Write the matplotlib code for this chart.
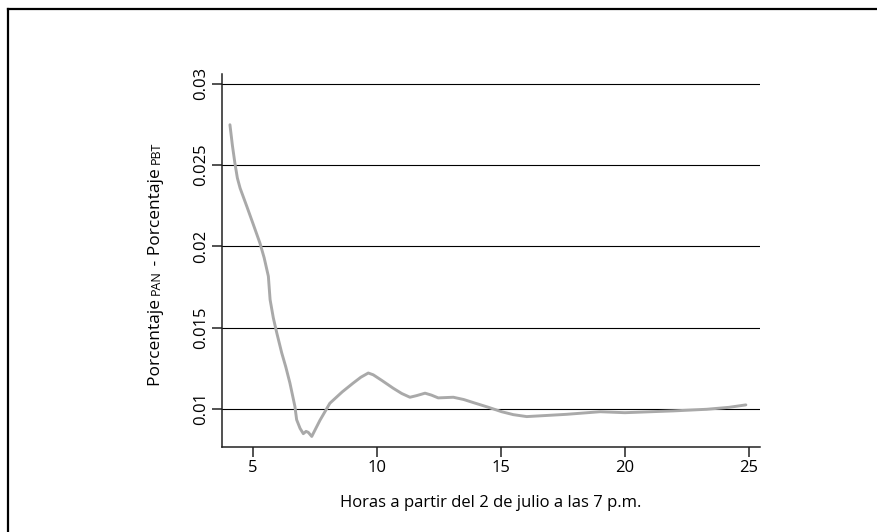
import numpy as np
import matplotlib
matplotlib.use('Agg')
import matplotlib.pyplot as plt
from matplotlib.lines import Line2D

plt.rcParams['font.family'] = ['Open Sans', 'DejaVu Sans']

# valores
horas = [4.07, 4.17, 4.27, 4.37, 4.48, 4.75, 5.0, 5.28, 5.45, 5.62, 5.69, 5.82,
         5.96, 6.16, 6.32, 6.49, 6.69, 6.76, 6.9, 7.03, 7.14, 7.23, 7.37, 7.7,
         8.10, 8.6, 9.04, 9.35, 9.65, 9.85, 10.2, 10.66, 11.0, 11.33, 11.6,
         11.94, 12.2, 12.47, 13.08, 13.5, 13.89, 14.5, 15.03, 15.5, 16.04,
         17.65, 19.0, 20.0, 21.95, 23.3, 24.2, 24.88]
dif = [0.02748, 0.02620, 0.02512, 0.02420, 0.02358, 0.02246, 0.02140, 0.0202,
       0.01930, 0.01816, 0.01672, 0.01560, 0.01467, 0.01344, 0.01260, 0.01159,
       0.01016, 0.00934, 0.00880, 0.00848, 0.00862, 0.00856, 0.00831, 0.00930,
       0.01035, 0.01105, 0.01159, 0.01195, 0.01221, 0.01210, 0.01175, 0.01127,
       0.01095, 0.01072, 0.01082, 0.01097, 0.01085, 0.01068, 0.01072, 0.01058,
       0.01039, 0.01010, 0.00983, 0.00965, 0.00953, 0.00967, 0.00983, 0.00977,
       0.00988, 0.00998, 0.01010, 0.01025]
xticks = [5, 10, 15, 20, 25]
yticks = [0.01, 0.015, 0.02, 0.025, 0.03]
ytick_labels = ['0.01', '0.015', '0.02', '0.025', '0.03']

W, H = 878, 532
fig = plt.figure(figsize=(W / 100, H / 100), dpi=100)
ax = fig.add_axes([222 / W, 1 - 447 / H, (760 - 222) / W, (447 - 74) / H])

for yv in yticks:
    ax.axhline(yv, color='black', lw=0.8, zorder=1)
ax.plot(horas, dif, color='#a9a9a9', lw=2.1, zorder=3,
        solid_joinstyle='round', solid_capstyle='round')

ax.set_xlim(3.75, 25.45)
ax.set_ylim(0.00766, 0.0306)
ax.set_xticks(xticks)
ax.set_yticks(yticks)
ax.set_yticklabels(ytick_labels, rotation=90, va='center')
ax.tick_params(axis='both', direction='out', length=7, width=1.1, colors='#222222',
               labelsize=12, labelcolor='black')
ax.tick_params(axis='y', pad=2)
ax.tick_params(axis='x', pad=2)
for s in ['top', 'right']:
    ax.spines[s].set_visible(False)
for s in ['left', 'bottom']:
    ax.spines[s].set_color('#222222')
    ax.spines[s].set_linewidth(1.1)

ax.set_xlabel('Horas a partir del 2 de julio a las 7 p.m.', fontsize=12, labelpad=14)

# etiqueta del eje y con versalitas
partes = [('Porcentaje ', 12.5), ('PAN', 9), (' - Porcentaje ', 12.5), ('PBT', 9)]
renderer = fig.canvas.get_renderer()
textos = []
for txt, size in partes:
    t = fig.text(0, 0, txt, fontsize=size, rotation=90, rotation_mode='anchor',
                 ha='left', va='baseline')
    textos.append(t)
largos = [t.get_window_extent(renderer).height for t in textos]
total = sum(largos)
y0 = (H - 264) - total / 2
xb = 160
for t, l in zip(textos, largos):
    t.set_position((xb / W, y0 / H))
    y0 += l

# marco exterior
fig.add_artist(Line2D([8 / W, 1], [1 - 9 / H] * 2, color='black', lw=1.6))
fig.add_artist(Line2D([8 / W] * 2, [0, 1 - 9 / H], color='black', lw=1.6))

fig.savefig('out.png', dpi=100)
